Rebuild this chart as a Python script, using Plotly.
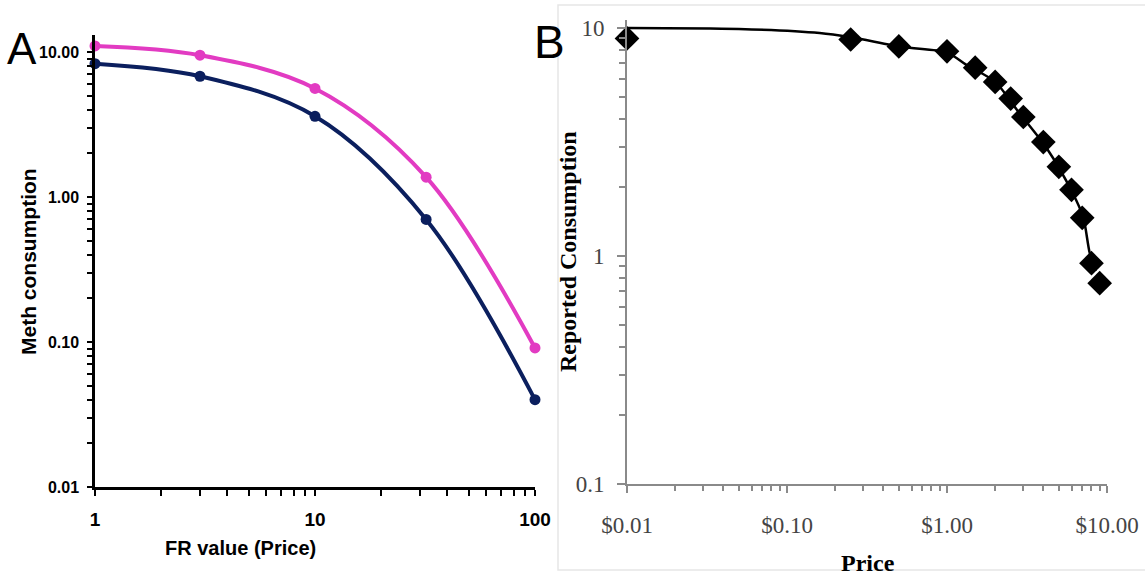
import plotly.graph_objects as go

# ---------------- Panel A data ----------------
fr_values = [1, 3, 10, 32, 100]
meth_pink = [11.0, 9.5, 5.6, 1.37, 0.091]
meth_navy = [8.3, 6.8, 3.6, 0.70, 0.040]
a_ytick_vals = [0.01, 0.1, 1, 10]
a_ytick_text = ["0.01", "0.10", "1.00", "10.00"]
a_xtick_vals = [1, 10, 100]
a_xtick_text = ["1", "10", "100"]

# ---------------- Panel B data ----------------
prices = [0.01, 0.25, 0.5, 1.0, 1.5, 2.0, 2.5, 3.0, 4.0, 5.0, 6.0, 7.0, 8.0, 9.0]
reported = [9.0, 8.9, 8.3, 7.9, 6.7, 5.8, 4.9, 4.07, 3.16, 2.46, 1.95, 1.47, 0.93, 0.76]
curve_price = [0.01, 0.05, 0.16, 0.25, 0.53, 1.0, 1.33, 2.0, 2.8, 4.2, 6.1, 7.1, 7.8, 8.5]
curve_cons = [10.0, 9.9, 9.5, 9.1, 8.25, 7.8, 6.87, 5.8, 4.28, 2.97, 1.89, 1.48, 1.03, 0.86]
b_ytick_vals = [0.1, 1, 10]
b_ytick_text = ["0.1", "1", "10"]
b_xtick_vals = [0.01, 0.1, 1, 10]
b_xtick_text = ["$0.01", "$0.10", "$1.00", "$10.00"]

W, H = 1145, 575
PINK = "#E23BC2"
NAVY = "#0B1F5E"

def minor_vals(lo_exp, hi_exp):
    out = []
    for e in range(lo_exp, hi_exp):
        for m in range(2, 10):
            out.append(m * 10 ** e)
    return out

fig = go.Figure()

fig.add_trace(go.Scatter(x=fr_values, y=meth_pink, mode="lines+markers", cliponaxis=False,
                         line=dict(color=PINK, width=4, shape="spline", smoothing=1.0),
                         marker=dict(color=PINK, size=11, symbol="circle"),
                         xaxis="x", yaxis="y", showlegend=False))
fig.add_trace(go.Scatter(x=fr_values, y=meth_navy, mode="lines+markers", cliponaxis=False,
                         line=dict(color=NAVY, width=4, shape="spline", smoothing=1.0),
                         marker=dict(color=NAVY, size=11, symbol="circle"),
                         xaxis="x", yaxis="y", showlegend=False))

fig.add_trace(go.Scatter(x=curve_price, y=curve_cons, mode="lines", cliponaxis=False,
                         line=dict(color="black", width=2.5, shape="spline", smoothing=0.8),
                         xaxis="x2", yaxis="y2", showlegend=False))
fig.add_trace(go.Scatter(x=prices, y=reported, mode="markers", cliponaxis=False,
                         marker=dict(color="black", size=19, symbol="diamond"),
                         xaxis="x2", yaxis="y2", showlegend=False))

a_yfont = dict(family="Liberation Sans Narrow, Arial Narrow, Arial", size=16, color="black", weight="bold")
a_xfont = dict(family="Liberation Sans Narrow, Arial Narrow, Arial", size=19, color="black", weight="bold")
b_font = dict(family="Liberation Serif, Times New Roman, serif", size=23, color="#444444")

fig.update_layout(
    width=W, height=H,
    margin=dict(l=0, r=0, t=0, b=0, autoexpand=False),
    paper_bgcolor="white", plot_bgcolor="white",
    xaxis=dict(type="log", domain=[95 / W, 535 / W], range=[0, 2], automargin=False,
               showline=True, linecolor="black", linewidth=2.5, showgrid=False, zeroline=False,
               ticks="outside", ticklen=6, tickwidth=2, tickcolor="black",
               tickvals=a_xtick_vals, ticktext=a_xtick_text, tickfont=a_xfont,
               ticklabelstandoff=7,
               minor=dict(tickvals=minor_vals(0, 2), ticks="outside", ticklen=6, tickwidth=2,
                          tickcolor="black", showgrid=False),
               anchor="y"),
    yaxis=dict(type="log", domain=[(H - 487) / H, (H - 35) / H], range=[-2, 1.117], automargin=False,
               showline=True, linecolor="black", linewidth=2.5, showgrid=False, zeroline=False,
               ticks="outside", ticklen=5, tickwidth=2, tickcolor="black",
               tickvals=a_ytick_vals, ticktext=a_ytick_text, tickfont=a_yfont,
               ticklabelstandoff=5,
               minor=dict(tickvals=minor_vals(-2, 1), ticks="outside", ticklen=5, tickwidth=2,
                          tickcolor="black", showgrid=False),
               anchor="x"),
    xaxis2=dict(type="log", domain=[627 / W, 1107 / W], range=[-2, 1], automargin=False,
                showline=True, linecolor="#8a8a8a", linewidth=1.8, showgrid=False, zeroline=False,
                ticks="outside", ticklen=7, tickwidth=1.5, tickcolor="#8a8a8a",
                tickvals=b_xtick_vals, ticktext=b_xtick_text, tickfont=b_font,
                ticklabelstandoff=12,
                minor=dict(tickvals=minor_vals(-2, 1), ticks="outside", ticklen=5, tickwidth=1.5,
                           tickcolor="#8a8a8a", showgrid=False),
                anchor="y2"),
    yaxis2=dict(type="log", domain=[(H - 484) / H, (H - 20) / H], range=[-1, 1.035], automargin=False,
                showline=True, linecolor="#8a8a8a", linewidth=1.8, showgrid=False, zeroline=False,
                ticks="outside", ticklen=8, tickwidth=1.5, tickcolor="#8a8a8a",
                tickvals=b_ytick_vals, ticktext=b_ytick_text, tickfont=b_font,
                ticklabelstandoff=8,
                minor=dict(tickvals=minor_vals(-1, 1), ticks="outside", ticklen=6, tickwidth=1.5,
                           tickcolor="#8a8a8a", showgrid=False),
                anchor="x2"),
)

# light frame around panel B
fig.add_shape(type="rect", xref="paper", yref="paper",
              x0=558 / W, x1=1.2, y0=(H - 570) / H, y1=(H - 5) / H,
              line=dict(color="#e6e6e6", width=1.5), layer="below")

ann = []
ann.append(dict(text="A", x=22 / W, y=1 - 48 / H, font=dict(family="Liberation Sans, Arial", size=44, color="black")))
ann.append(dict(text="B", x=549 / W, y=1 - 42 / H, font=dict(family="Liberation Sans, Arial", size=46, color="black")))
ann.append(dict(text="Meth consumption", x=28 / W, y=1 - 262 / H, textangle=-90,
                font=dict(family="Liberation Sans, Arial", size=21, color="black", weight="bold")))
ann.append(dict(text="FR value (Price)", x=240 / W, y=1 - 548 / H,
                font=dict(family="Liberation Sans, Arial", size=20, color="black", weight="bold")))
ann.append(dict(text="Reported Consumption", x=568 / W, y=1 - 252 / H, textangle=-90,
                font=dict(family="Liberation Serif, Times New Roman, serif", size=24, color="black", weight="bold")))
ann.append(dict(text="Price", x=868 / W, y=1 - 563 / H,
                font=dict(family="Liberation Serif, Times New Roman, serif", size=24, color="black", weight="bold")))
for a in ann:
    a.update(xref="paper", yref="paper", showarrow=False, xanchor="center", yanchor="middle")
    fig.add_annotation(**a)

fig.write_html("out.html")
